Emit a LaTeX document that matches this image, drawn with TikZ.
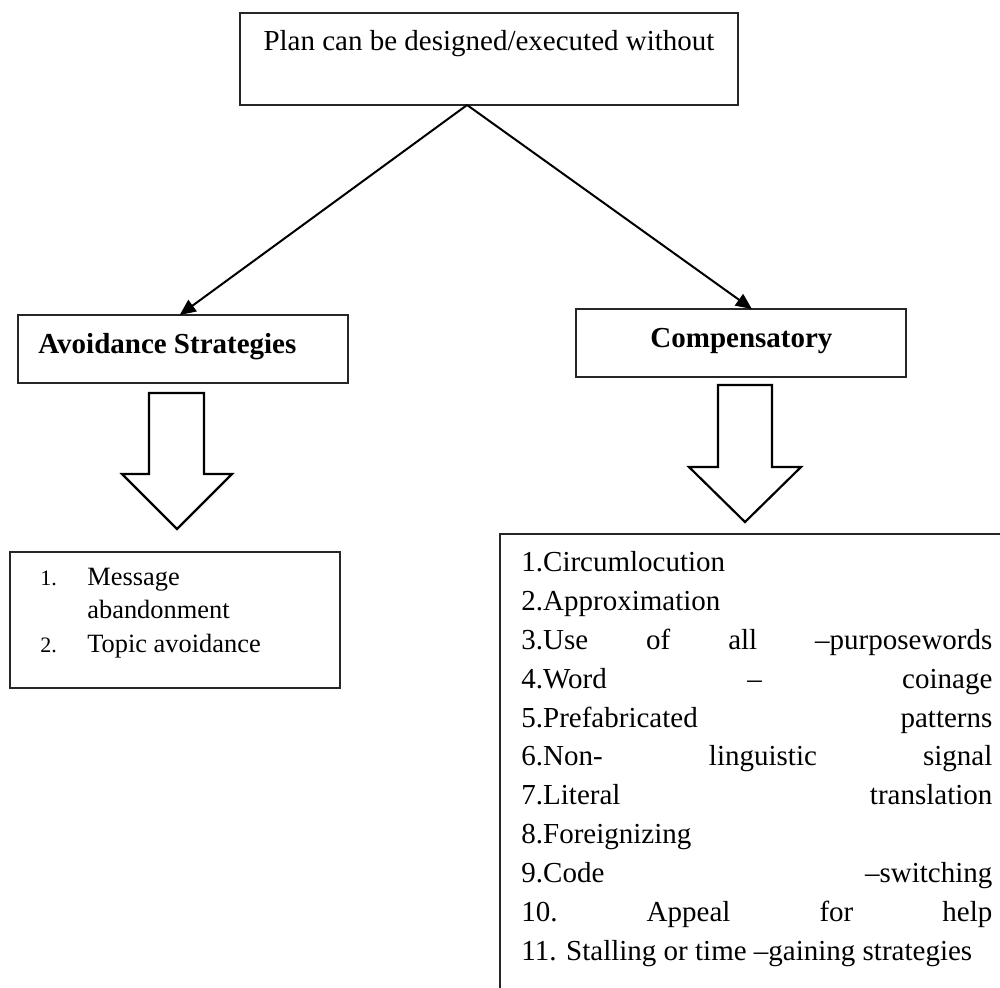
\documentclass[tikz,border=0pt]{standalone}
\usepackage{fontspec}
\setmainfont{Liberation Serif}
\usetikzlibrary{arrows.meta,calc}
\tikzset{
  boxnode/.style={draw=black!85, line width=0.65pt, rectangle, inner sep=0pt, outer sep=0pt, anchor=north west},
  conn/.style={line width=1pt, -{Triangle[length=8pt,width=7pt]}},
  blockarrow/.style={draw=black, line width=1.1pt, fill=white, line join=miter},
  maintext/.style={font=\fontsize{14.5pt}{17pt}\selectfont, inner sep=0pt, anchor=base west},
  boldtext/.style={font=\fontsize{14.5pt}{17pt}\selectfont\bfseries, inner sep=0pt, anchor=base west},
  smalltext/.style={font=\fontsize{13.2pt}{16pt}\selectfont, inner sep=0pt, anchor=base west},
  numtext/.style={font=\fontsize{11pt}{13pt}\selectfont, inner sep=0pt, anchor=base west},
  listline/.style={maintext}
}
\newcommand{\jline}[1]{\makebox[235.5pt][l]{#1}}
\begin{document}
\begin{tikzpicture}[x=0.5pt,y=-0.5pt]
\useasboundingbox (0,0) rectangle (1000,987);
\clip (0,0) rectangle (1000,987);

% boxes
\node[boxnode, minimum width=249pt, minimum height=46pt] (top) at (240,13) {};
\node[boxnode, minimum width=165pt, minimum height=34pt] (avoid) at (18,315) {};
\node[boxnode, minimum width=165pt, minimum height=34pt] (comp) at (576,309) {};
\node[boxnode, minimum width=165pt, minimum height=68pt] (leftlist) at (10,552) {};
\node[boxnode, minimum width=256pt, minimum height=234pt] (rightlist) at (500,534) {};

% titles
\node[maintext, anchor=base] (toptext) at (489,50) {Plan can be designed/executed without};
\node[boldtext] (avoidtext) at (38,353) {Avoidance Strategies};
\node[boldtext] (comptext) at (650,347) {Compensatory};

% connectors
\coordinate (apex) at ($(top.south west)!0.456!(top.south east)$);
\coordinate (compin) at ($(comp.north west)!0.533!(comp.north east)$);
\coordinate (avoidin) at ($(avoid.north west)!0.49!(avoid.north east)$);
\draw[conn] (apex) -- (avoidin);
\draw[conn] (apex) -- (compin);

% block arrows
\draw[blockarrow] (149,393) -- (204,393) -- (204,474) -- (232,474) -- (177,529) -- (122,474) -- (149,474) -- cycle;
\draw[blockarrow] (718,385) -- (772,385) -- (772,467) -- (801,467) -- (745,522) -- (689,467) -- (718,467) -- cycle;

% left list
\node[numtext] (n1) at (40,585) {1.};
\node[smalltext] (m1) at (87,585) {Message};
\node[smalltext] (m1b) at (87,618) {abandonment};
\node[numtext] (n2) at (40,652) {2.};
\node[smalltext] (m2) at (87,652) {Topic avoidance};

% right list
\node[listline] (r1) at (521,571) {1.Circumlocution};
\node[listline] (r2) at (521,610) {2.Approximation};
\node[listline] (r3) at (521,649) {\jline{3.Use\hfill of\hfill all\hfill –purposewords}};
\node[listline] (r4) at (521,688) {\jline{4.Word\hfill –\hfill coinage}};
\node[listline] (r5) at (521,727) {\jline{5.Prefabricated\hfill patterns}};
\node[listline] (r6) at (521,765) {\jline{6.Non-\hfill linguistic\hfill signal}};
\node[listline] (r7) at (521,804) {\jline{7.Literal\hfill translation}};
\node[listline] (r8) at (521,843) {8.Foreignizing};
\node[listline] (r9) at (521,882) {\jline{9.Code\hfill –switching}};
\node[listline] (r10) at (521,921) {\jline{10.\hfill Appeal\hfill for\hfill help}};
\node[listline] (r11) at (521,960) {11. Stalling or time –gaining strategies};
\end{tikzpicture}
\end{document}
